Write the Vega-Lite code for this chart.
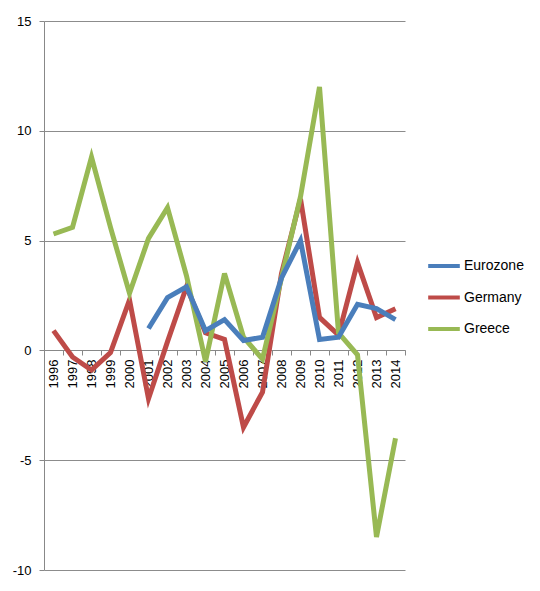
{
  "$schema": "https://vega.github.io/schema/vega-lite/v6.json",
  "width": 361,
  "height": 549,
  "autosize": "none",
  "padding": {"left": 44, "top": 21, "right": 135, "bottom": 21},
  "background": "white",
  "config": {
    "view": {"stroke": null},
    "font": "Liberation Sans"
  },
  "data": {
    "values": [
      {"year": "1996", "series": "Germany", "value": 0.9},
      {"year": "1997", "series": "Germany", "value": -0.3},
      {"year": "1998", "series": "Germany", "value": -0.9},
      {"year": "1999", "series": "Germany", "value": -0.1},
      {"year": "2000", "series": "Germany", "value": 2.3},
      {"year": "2001", "series": "Germany", "value": -2.2},
      {"year": "2002", "series": "Germany", "value": 0.4},
      {"year": "2003", "series": "Germany", "value": 2.9},
      {"year": "2004", "series": "Germany", "value": 0.8},
      {"year": "2005", "series": "Germany", "value": 0.5},
      {"year": "2006", "series": "Germany", "value": -3.5},
      {"year": "2007", "series": "Germany", "value": -1.9},
      {"year": "2008", "series": "Germany", "value": 3.5},
      {"year": "2009", "series": "Germany", "value": 6.9},
      {"year": "2010", "series": "Germany", "value": 1.5},
      {"year": "2011", "series": "Germany", "value": 0.7},
      {"year": "2012", "series": "Germany", "value": 4.0},
      {"year": "2013", "series": "Germany", "value": 1.5},
      {"year": "2014", "series": "Germany", "value": 1.9},
      {"year": "1996", "series": "Greece", "value": 5.3},
      {"year": "1997", "series": "Greece", "value": 5.6},
      {"year": "1998", "series": "Greece", "value": 8.8},
      {"year": "1999", "series": "Greece", "value": 5.6},
      {"year": "2000", "series": "Greece", "value": 2.6},
      {"year": "2001", "series": "Greece", "value": 5.1},
      {"year": "2002", "series": "Greece", "value": 6.5},
      {"year": "2003", "series": "Greece", "value": 3.4},
      {"year": "2004", "series": "Greece", "value": -0.5},
      {"year": "2005", "series": "Greece", "value": 3.5},
      {"year": "2006", "series": "Greece", "value": 0.6},
      {"year": "2007", "series": "Greece", "value": -0.4},
      {"year": "2008", "series": "Greece", "value": 3.3},
      {"year": "2009", "series": "Greece", "value": 7.0},
      {"year": "2010", "series": "Greece", "value": 12.0},
      {"year": "2011", "series": "Greece", "value": 0.8},
      {"year": "2012", "series": "Greece", "value": -0.2},
      {"year": "2013", "series": "Greece", "value": -8.5},
      {"year": "2014", "series": "Greece", "value": -4.0},
      {"year": "2001", "series": "Eurozone", "value": 1.0},
      {"year": "2002", "series": "Eurozone", "value": 2.4},
      {"year": "2003", "series": "Eurozone", "value": 2.9},
      {"year": "2004", "series": "Eurozone", "value": 0.9},
      {"year": "2005", "series": "Eurozone", "value": 1.4},
      {"year": "2006", "series": "Eurozone", "value": 0.45},
      {"year": "2007", "series": "Eurozone", "value": 0.6},
      {"year": "2008", "series": "Eurozone", "value": 3.3},
      {"year": "2009", "series": "Eurozone", "value": 5.0},
      {"year": "2010", "series": "Eurozone", "value": 0.5},
      {"year": "2011", "series": "Eurozone", "value": 0.6},
      {"year": "2012", "series": "Eurozone", "value": 2.1},
      {"year": "2013", "series": "Eurozone", "value": 1.9},
      {"year": "2014", "series": "Eurozone", "value": 1.4}
    ]
  },
  "mark": {"type": "line", "strokeWidth": 5, "strokeJoin": "miter", "strokeCap": "butt"},
  "encoding": {
    "x": {
      "field": "year",
      "type": "ordinal",
      "title": null,
      "scale": {"type": "band", "paddingInner": 0, "paddingOuter": 0},
      "axis": {
        "orient": "bottom",
        "offset": -220,
        "labelAngle": -90,
        "labelAlign": "right",
        "labelBaseline": "middle",
        "labelFontSize": 13,
        "labelColor": "black",
        "labelPadding": 4,
        "tickBand": "extent",
        "tickSize": 5,
        "tickColor": "#888888",
        "domainColor": "#888888",
        "grid": false
      }
    },
    "y": {
      "field": "value",
      "type": "quantitative",
      "title": null,
      "scale": {"domain": [-10, 15], "nice": false, "zero": false},
      "axis": {
        "values": [-10, -5, 0, 5, 10, 15],
        "labelExpr": "'' + datum.value",
        "labelFontSize": 13,
        "labelColor": "black",
        "labelPadding": 8,
        "tickSize": 5,
        "tickColor": "#888888",
        "domainColor": "#888888",
        "gridColor": "#8c8c8c",
        "grid": true
      }
    },
    "color": {
      "field": "series",
      "type": "nominal",
      "title": null,
      "scale": {
        "domain": ["Eurozone", "Germany", "Greece"],
        "range": ["#4a7ebb", "#be4b48", "#98b954"]
      },
      "legend": {
        "orient": "none",
        "legendX": 382,
        "legendY": 227,
        "symbolType": "stroke",
        "symbolStrokeWidth": 4,
        "symbolSize": 1000,
        "labelFontSize": 14,
        "labelOffset": 2,
        "labelColor": "black",
        "rowPadding": 5.5
      }
    }
  }
}
